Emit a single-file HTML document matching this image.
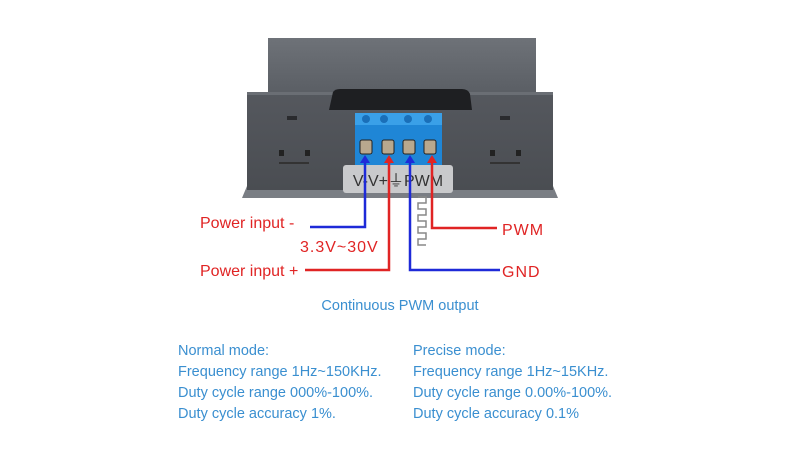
<!DOCTYPE html>
<html><head><meta charset="utf-8"><style>
html,body{margin:0;padding:0;background:#fff;width:800px;height:450px;overflow:hidden}
svg{display:block}
</style></head><body>
<svg width="800" height="450" viewBox="0 0 800 450" xmlns="http://www.w3.org/2000/svg" font-family="Liberation Sans, sans-serif">
<defs>
<linearGradient id="top" x1="0" y1="0" x2="0" y2="1"><stop offset="0" stop-color="#6e7278"/><stop offset="1" stop-color="#5a5e64"/></linearGradient>
<linearGradient id="front" x1="0" y1="0" x2="0" y2="1"><stop offset="0" stop-color="#55585e"/><stop offset="1" stop-color="#4a4d52"/></linearGradient>
</defs>
<path d="M247 186 L553 186 L558 198 L242 198 Z" fill="#7a7e84"/>
<rect x="268" y="38" width="268" height="56" fill="url(#top)"/>
<rect x="247" y="92" width="306" height="98" fill="url(#front)"/>
<rect x="247" y="92" width="306" height="3" fill="#6a6e74"/>
<path d="M329 110 L333 92 Q335 89 340 89 L462 89 Q468 89 470 94 L472 110 Z" fill="#1e1f22"/>
<rect x="287" y="116" width="10" height="4" fill="#2a2b2e"/>
<rect x="279" y="150" width="5" height="6" fill="#222"/><rect x="305" y="150" width="5" height="6" fill="#222"/>
<rect x="279" y="162" width="30" height="2" fill="#333"/>
<rect x="500" y="116" width="10" height="4" fill="#2a2b2e"/>
<rect x="490" y="150" width="5" height="6" fill="#222"/><rect x="516" y="150" width="5" height="6" fill="#222"/>
<rect x="490" y="162" width="30" height="2" fill="#333"/>
<rect x="355" y="113" width="87" height="52" fill="#1f86d6"/>
<rect x="355" y="113" width="87" height="12" fill="#3aa0e8"/>
<g fill="#1a6fb8"><circle cx="366" cy="119" r="4"/><circle cx="384" cy="119" r="4"/><circle cx="408" cy="119" r="4"/><circle cx="428" cy="119" r="4"/></g>
<g fill="#b8a88e" stroke="#222" stroke-width="1"><rect x="360" y="140" width="12" height="14" rx="2"/><rect x="382" y="140" width="12" height="14" rx="2"/><rect x="403" y="140" width="12" height="14" rx="2"/><rect x="424" y="140" width="12" height="14" rx="2"/></g>
<rect x="343" y="165" width="110" height="28" rx="3" fill="#c9cacc"/>
<text x="398" y="186" font-size="16" fill="#333" text-anchor="middle">V-V+⏚PWM</text>
<path d="M418 197 h8 v6 h-8 v6 h8 v6 h-8 v6 h8 v6 h-8 v6 h8 v6 h-8 v6 h8" fill="none" stroke="#888" stroke-width="1.5"/>
<g fill="none" stroke-width="2.5">
<path d="M365 160 V227 H310" stroke="#1e2ad8"/>
<path d="M389 160 V270 H305" stroke="#e02424"/>
<path d="M410 160 V270 H500" stroke="#1e2ad8"/>
<path d="M432 160 V228 H497" stroke="#e02424"/>
</g>
<g>
<path d="M365 155 l-5 8 h10z" fill="#1e2ad8"/>
<path d="M389 155 l-5 8 h10z" fill="#e02424"/>
<path d="M410 155 l-5 8 h10z" fill="#1e2ad8"/>
<path d="M432 155 l-5 8 h10z" fill="#e02424"/>
</g>
<g fill="#e02424" font-size="16">
<text x="200" y="228">Power input -</text>
<text x="300" y="252" letter-spacing="1">3.3V~30V</text>
<text x="200" y="276">Power input +</text>
<text x="502" y="235" letter-spacing="1">PWM</text>
<text x="502" y="277" letter-spacing="1">GND</text>
</g>
<g fill="#3a8fd0" font-size="14.5">
<text x="400" y="310" text-anchor="middle">Continuous PWM output</text>
<text x="178" y="355">Normal mode:</text>
<text x="178" y="376">Frequency range 1Hz~150KHz.</text>
<text x="178" y="397">Duty cycle range 000%-100%.</text>
<text x="178" y="418">Duty cycle accuracy 1%.</text>
<text x="413" y="355">Precise mode:</text>
<text x="413" y="376">Frequency range 1Hz~15KHz.</text>
<text x="413" y="397">Duty cycle range 0.00%-100%.</text>
<text x="413" y="418">Duty cycle accuracy 0.1%</text>
</g>
</svg>
</body></html>
